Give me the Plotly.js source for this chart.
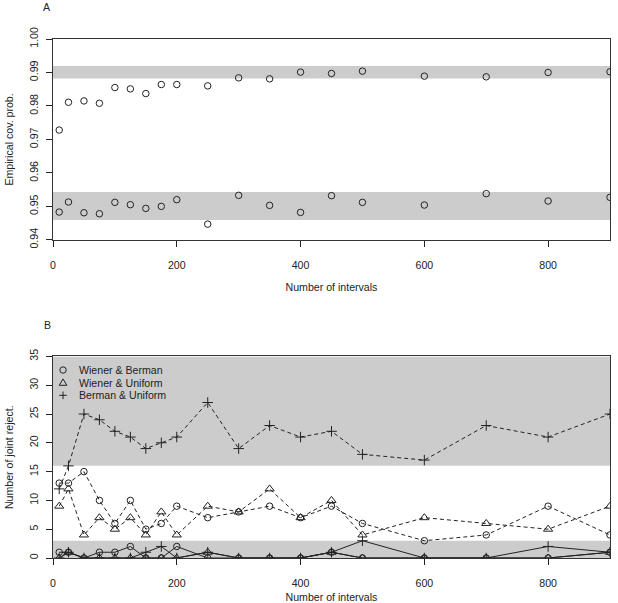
<!DOCTYPE html>
<html>
<head>
<meta charset="utf-8">
<script src="https://cdn.plot.ly/plotly-3.0.1.min.js"></script>
<style>
  html, body { margin: 0; padding: 0; background: #fff; }
  #chart { width: 618px; height: 603px; }
</style>
</head>
<body>
<div id="chart"></div>
<script>
// Number of intervals used in each simulation setting
const nIntervals = [10, 25, 50, 75, 100, 125, 150, 175, 200, 250, 300, 350, 400, 450, 500, 600, 700, 800, 900];

// Panel A: empirical coverage probabilities (nominal 0.99 and 0.95)
const cov99 = [0.9728, 0.9811, 0.9815, 0.9808, 0.9855, 0.9851, 0.9837, 0.9864, 0.9864, 0.9860,
               0.9884, 0.9881, 0.9901, 0.9897, 0.9904, 0.9889, 0.9887, 0.9900, 0.9902];
const cov95 = [0.9483, 0.9513, 0.9481, 0.9478, 0.9512, 0.9505, 0.9494, 0.9500, 0.9520, 0.9447,
               0.9533, 0.9503, 0.9482, 0.9532, 0.9512, 0.9504, 0.9538, 0.9516, 0.9527];
// Tolerance bands around the nominal levels
const band95 = [0.9459, 0.9543];
const band99 = [0.9882, 0.9919];

// Panel B: number of joint rejections, dashed = first level, solid = second level
const rejWBhigh = [13, 13, 15, 10, 6, 10, 5, 6, 9, 7, 8, 9, 7, 9, 6, 3, 4, 9, 4];
const rejWUhigh = [9, 12, 4, 7, 5, 7, 4, 8, 4, 9, 8, 12, 7, 10, 4, 7, 6, 5, 9];
const rejBUhigh = [12, 16, 25, 24, 22, 21, 19, 20, 21, 27, 19, 23, 21, 22, 18, 17, 23, 21, 25];
const rejWBlow = [1, 1, 0, 1, 1, 2, 0, 0, 2, 0, 0, 0, 0, 1, 0, 0, 0, 0, 1];
const rejWUlow = [0, 1, 0, 0, 0, 0, 0, 0, 0, 1, 0, 0, 0, 1, 0, 0, 0, 0, 1];
const rejBUlow = [0, 1, 0, 0, 0, 0, 1, 2, 0, 1, 0, 0, 0, 1, 3, 0, 0, 2, 1];
const bandRejLow = [0, 3];
const bandRejHigh = [16, 35];

const seriesNames = ['Wiener & Berman', 'Wiener & Uniform', 'Berman & Uniform'];
const xTicks = [0, 200, 400, 600, 800];
const yTicksA = [0.94, 0.95, 0.96, 0.97, 0.98, 0.99, 1.00];
const yTicksB = [0, 5, 10, 15, 20, 25, 30, 35];

const ink = '#222';
const bandColor = '#cccccc';
const fontFamily = '"Liberation Sans", Arial, sans-serif';
const fs = 10.6;

const symbols = ['circle-open', 'triangle-up-open', 'cross-thin-open'];
const symSizes = [6.5, 8, 7.5];

function pts(y, xa, ya) {
  return {
    x: nIntervals, y: y, xaxis: xa, yaxis: ya, type: 'scatter', mode: 'markers',
    showlegend: false, hoverinfo: 'skip',
    marker: { symbol: 'circle-open', size: 6.5, color: ink, line: { width: 1, color: ink } }
  };
}

function series(y, i, dash) {
  return {
    x: nIntervals, y: y, xaxis: 'x2', yaxis: 'y2', type: 'scatter', mode: 'lines+markers',
    name: seriesNames[i], showlegend: false, hoverinfo: 'skip',
    line: { color: ink, width: 1, dash: dash },
    marker: { symbol: symbols[i], size: symSizes[i], color: ink, line: { width: 1, color: ink } }
  };
}

const traces = [
  pts(cov99, 'x', 'y'),
  pts(cov95, 'x', 'y'),
  series(rejWBhigh, 0, '4px,3px'),
  series(rejWUhigh, 1, '4px,3px'),
  series(rejBUhigh, 2, '4px,3px'),
  series(rejWBlow, 0, 'solid'),
  series(rejWUlow, 1, 'solid'),
  series(rejBUlow, 2, 'solid')
];

function band(range, xa, ya) {
  return {
    type: 'rect', xref: xa + ' domain', yref: ya, x0: 0, x1: 1, y0: range[0], y1: range[1],
    fillcolor: bandColor, line: { width: 0 }, layer: 'below'
  };
}

// Compact key in the top-left corner of panel B (symbol + label per row)
const keyX = 0.018, keyTextX = 0.043;
const keyRows = [0.9325, 0.8696, 0.8070];
const keyPaths = [
  null,
  'M-3.8,-2.6 L3.8,-2.6 L0,3.8 Z',
  'M-3.8,0 L3.8,0 M0,-3.8 L0,3.8'
];
const keyShapes = keyRows.map((ky, i) => {
  const base = {
    xref: 'x2 domain', yref: 'y2 domain', xsizemode: 'pixel', ysizemode: 'pixel',
    xanchor: keyX, yanchor: ky, line: { color: ink, width: 1 }, layer: 'above'
  };
  if (i === 0) return Object.assign(base, { type: 'circle', x0: -3.2, x1: 3.2, y0: -3.2, y1: 3.2 });
  return Object.assign(base, { type: 'path', path: keyPaths[i] });
});
const keyLabels = keyRows.map((ky, i) => ({
  text: seriesNames[i], xref: 'x2 domain', yref: 'y2 domain', x: keyTextX, y: ky,
  xanchor: 'left', yanchor: 'middle', showarrow: false,
  font: { family: fontFamily, size: fs, color: ink }
}));

const xAxisBase = {
  range: [0, 900], tickvals: xTicks, ticks: 'outside', ticklen: 6, tickwidth: 1, tickcolor: ink,
  showline: true, mirror: true, linecolor: '#333', linewidth: 1,
  showgrid: false, zeroline: false, ticklabelstandoff: 9,
  tickfont: { family: fontFamily, size: fs, color: ink },
  title: { text: 'Number of intervals', font: { family: fontFamily, size: fs, color: ink }, standoff: 14 }
};

function yAxis(domain, range, ticks, fmt, title) {
  return {
    domain: domain, range: range, tickvals: ticks, tickformat: fmt, tickangle: -90,
    ticks: 'outside', ticklen: 6, tickwidth: 1, tickcolor: ink,
    showline: true, mirror: true, linecolor: '#333', linewidth: 1,
    showgrid: false, zeroline: false, ticklabelstandoff: 4,
    tickfont: { family: fontFamily, size: fs, color: ink },
    title: { text: title, font: { family: fontFamily, size: fs, color: ink }, standoff: 12 }
  };
}

const layout = {
  width: 618, height: 603,
  margin: { l: 53, r: 8, t: 39, b: 45 },
  paper_bgcolor: '#fff', plot_bgcolor: '#fff',
  font: { family: fontFamily, size: fs, color: ink },
  showlegend: false,
  xaxis: Object.assign({}, xAxisBase, { anchor: 'y' }),
  yaxis: yAxis([0.613, 1], [0.94, 1.0], yTicksA, '.2f', 'Empirical cov. prob.'),
  xaxis2: Object.assign({}, xAxisBase, { anchor: 'y2' }),
  yaxis2: yAxis([0, 0.3884], [0, 35], yTicksB, 'd', 'Number of joint reject.'),
  shapes: [
    band(band95, 'x', 'y'), band(band99, 'x', 'y'),
    band(bandRejLow, 'x2', 'y2'), band(bandRejHigh, 'x2', 'y2')
  ].concat(keyShapes),
  annotations: [
    { text: 'A', xref: 'paper', yref: 'paper', x: -0.0099, y: 1.0607, xanchor: 'center', yanchor: 'middle',
      showarrow: false, font: { family: fontFamily, size: fs, color: ink } },
    { text: 'B', xref: 'paper', yref: 'paper', x: -0.0099, y: 0.449, xanchor: 'center', yanchor: 'middle',
      showarrow: false, font: { family: fontFamily, size: fs, color: ink } }
  ].concat(keyLabels)
};

Plotly.newPlot('chart', traces, layout, { displayModeBar: false, staticPlot: true });
</script>
</body>
</html>
